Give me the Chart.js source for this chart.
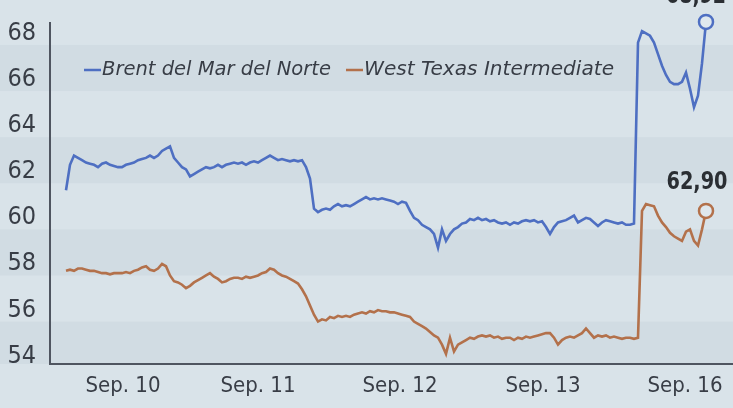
<!DOCTYPE html>
<html>
<head>
<meta charset="utf-8">
<script src="https://cdn.jsdelivr.net/npm/chart.js@4/dist/chart.umd.min.js"></script>
<style>
	html, body { margin: 0; padding: 0; background: #d8e2e8; }
	#wrap { width: 733px; height: 408px; position: relative; }
</style>
</head>
<body>
<div id="wrap"><canvas id="oilChart"></canvas></div>
<script>
// precios intradia, un punto cada ~4px de la grafica original
var brent = [
	61.2, 62.3, 62.7, 62.6, 62.5, 62.4, 62.35, 62.3, 62.2, 62.35,
	62.4, 62.3, 62.25, 62.2, 62.2, 62.3, 62.35, 62.4, 62.5, 62.55,
	62.6, 62.7, 62.6, 62.7, 62.9, 63.0, 63.1, 62.6, 62.4, 62.2,
	62.1, 61.8, 61.9, 62.0, 62.1, 62.2, 62.15, 62.2, 62.3, 62.2,
	62.3, 62.35, 62.4, 62.35, 62.4, 62.3, 62.4, 62.45, 62.4, 62.5,
	62.6, 62.7, 62.6, 62.5, 62.55, 62.5, 62.45, 62.5, 62.45, 62.5,
	62.2, 61.7, 60.4, 60.25, 60.35, 60.4, 60.35, 60.5, 60.6, 60.5,
	60.55, 60.5, 60.6, 60.7, 60.8, 60.9, 60.8, 60.85, 60.8, 60.85,
	60.8, 60.75, 60.7, 60.6, 60.7, 60.65, 60.3, 60.0, 59.9, 59.7,
	59.6, 59.5, 59.3, 58.7, 59.5, 59.0, 59.3, 59.5, 59.6, 59.75,
	59.8, 59.95, 59.9, 60.0, 59.9, 59.95, 59.85, 59.9, 59.8, 59.75,
	59.8, 59.7, 59.8, 59.75, 59.85, 59.9, 59.85, 59.9, 59.8, 59.85,
	59.6, 59.3, 59.6, 59.8, 59.85, 59.9, 60.0, 60.1, 59.8, 59.9,
	60.0, 59.95, 59.8, 59.65, 59.8, 59.9, 59.85, 59.8, 59.75, 59.8,
	59.7, 59.7, 59.75, 67.6, 68.1, 68.0, 67.9, 67.6, 67.1, 66.6,
	66.2, 65.9, 65.8, 65.8, 65.9, 66.3, 65.6, 64.8, 65.3, 66.7,
	68.5
];
var wti = [
	57.7, 57.75, 57.7, 57.8, 57.8, 57.75, 57.7, 57.7, 57.65, 57.6,
	57.6, 57.55, 57.6, 57.6, 57.6, 57.65, 57.6, 57.7, 57.75, 57.85,
	57.9, 57.75, 57.7, 57.8, 58.0, 57.9, 57.5, 57.25, 57.2, 57.1,
	56.95, 57.05, 57.2, 57.3, 57.4, 57.5, 57.6, 57.45, 57.35, 57.2,
	57.25, 57.35, 57.4, 57.4, 57.35, 57.45, 57.4, 57.45, 57.5, 57.6,
	57.65, 57.8, 57.75, 57.6, 57.5, 57.45, 57.35, 57.25, 57.15, 56.9,
	56.6, 56.2, 55.8, 55.5, 55.6, 55.55, 55.7, 55.65, 55.75, 55.7,
	55.75, 55.7, 55.8, 55.85, 55.9, 55.85, 55.95, 55.9, 56.0, 55.95,
	55.95, 55.9, 55.9, 55.85, 55.8, 55.75, 55.7, 55.5, 55.4, 55.3,
	55.2, 55.05, 54.9, 54.8, 54.5, 54.1, 54.8, 54.2, 54.5, 54.6,
	54.7, 54.8, 54.75, 54.85, 54.9, 54.85, 54.9, 54.8, 54.85, 54.75,
	54.8, 54.8, 54.7, 54.8, 54.75, 54.85, 54.8, 54.85, 54.9, 54.95,
	55.0, 55.0, 54.8, 54.5, 54.7, 54.8, 54.85, 54.8, 54.9, 55.0,
	55.2, 55.0, 54.8, 54.9, 54.85, 54.9, 54.8, 54.85, 54.8, 54.75,
	54.8, 54.8, 54.75, 54.8, 60.3, 60.6, 60.55, 60.5, 60.1, 59.8,
	59.6, 59.35, 59.2, 59.1, 59.0, 59.4, 59.5, 59.0, 58.8, 59.5,
	60.3
];
var seriesNames = ["Brent del Mar del Norte", "West Texas Intermediate"];
var endLabels = ["68,92", "62,90"];
var tickLabels = ["Sep. 10", "Sep. 11", "Sep. 12", "Sep. 13", "Sep. 16"];
var tickAt = [14.25, 48, 83.5, 119.25, 154.75];
var yTicks = [54, 56, 58, 60, 62, 64, 66, 68];

var color = {
	bg: "#d9e3e9",
	band: "#d1dce3",
	blue: "#4e6fc2",
	orange: "#b3714b",
	text: "#383d46",
	axis: "#4f5560"
};
var narrow = "'DejaVu Sans Condensed', 'Liberation Sans', sans-serif";

function toPoints(arr) {
	return arr.map(function (v, i) { return { x: i, y: v }; });
}
function lastOnly(arr, r) {
	return arr.map(function (v, i) { return i === arr.length - 1 ? r : 0; });
}

// texto ajustado a un ancho dado (la fuente del periodico es condensada)
function fitText(ctx, text, x, y, width, font, align) {
	ctx.save();
	ctx.font = font;
	var w = ctx.measureText(text).width;
	var s = width / w;
	var left = align === "center" ? x - width / 2 : x;
	ctx.translate(left, y);
	ctx.scale(s, 1);
	ctx.textAlign = "left";
	ctx.fillText(text, 0, 0);
	ctx.restore();
}

var backdrop = {
	id: "backdrop",
	beforeDraw: function (chart) {
		var ctx = chart.ctx;
		var y = chart.scales.y;
		ctx.save();
		ctx.fillStyle = color.bg;
		ctx.fillRect(0, 0, chart.width, chart.height);
		ctx.fillStyle = color.band;
		[[65.5, 67.5], [61.5, 63.5], [57.5, 59.5], [53.66, 55.5]].forEach(function (b) {
			var t = y.getPixelForValue(b[1]);
			var btm = y.getPixelForValue(b[0]);
			ctx.fillRect(0, t, chart.width, btm - t);
		});
		ctx.restore();
	}
};

var decor = {
	id: "decor",
	afterDraw: function (chart) {
		var ctx = chart.ctx;
		var a = chart.chartArea;
		var y = chart.scales.y;
		ctx.save();
		// ejes
		ctx.strokeStyle = color.axis;
		ctx.lineWidth = 2;
		ctx.beginPath();
		ctx.moveTo(a.left, y.getPixelForValue(68.5));
		ctx.lineTo(a.left, a.bottom);
		ctx.lineTo(a.right, a.bottom);
		ctx.stroke();

		// leyenda
		ctx.fillStyle = color.text;
		ctx.textBaseline = "middle";
		var legendFont = "italic 19px " + narrow;
		ctx.lineWidth = 2.5;
		ctx.strokeStyle = color.blue;
		ctx.beginPath(); ctx.moveTo(84, 70); ctx.lineTo(101, 70); ctx.stroke();
		fitText(ctx, seriesNames[0], 102, 70, 229, legendFont, "left");
		ctx.strokeStyle = color.orange;
		ctx.beginPath(); ctx.moveTo(346, 70); ctx.lineTo(363, 70); ctx.stroke();
		fitText(ctx, seriesNames[1], 364, 70, 250, legendFont, "left");

		// valores finales
		var labelFont = "bold 24px " + narrow;
		ctx.fillStyle = "#2a2e33";
		fitText(ctx, endLabels[0], 696, -3, 60, labelFont, "center");
		fitText(ctx, endLabels[1], 697, 183, 61, labelFont, "center");
		ctx.restore();
	}
};

var ctx = document.getElementById("oilChart").getContext("2d");
var oilChart = new Chart(ctx, {
	type: "line",
	data: {
		datasets: [
			{
				label: seriesNames[0],
				data: toPoints(brent),
				borderColor: color.blue,
				borderWidth: 2.6,
				pointRadius: lastOnly(brent, 7),
				pointBorderWidth: 2.5,
				pointBackgroundColor: "#dfe8ee",
				pointBorderColor: color.blue,
				tension: 0
			},
			{
				label: seriesNames[1],
				data: toPoints(wti),
				borderColor: color.orange,
				borderWidth: 2.6,
				pointRadius: lastOnly(wti, 7),
				pointBorderWidth: 2.5,
				pointBackgroundColor: "#dfe8ee",
				pointBorderColor: color.orange,
				tension: 0
			}
		]
	},
	options: {
		responsive: true,
		maintainAspectRatio: false,
		animation: false,
		devicePixelRatio: 1,
		layout: { padding: 0, autoPadding: false },
		plugins: {
			legend: { display: false },
			tooltip: { enabled: false }
		},
		scales: {
			x: {
				type: "linear",
				min: -4,
				max: 166.75,
				grid: { display: false, drawTicks: false },
				border: { display: false },
				afterFit: function (scale) {
					scale.height = 44;
					scale.paddingLeft = 0;
					scale.paddingRight = 0;
				},
				afterBuildTicks: function (scale) {
					scale.ticks = tickAt.map(function (v) { return { value: v }; });
				},
				ticks: {
					autoSkip: false,
					maxRotation: 0,
					padding: 9,
					color: color.text,
					font: { family: narrow, size: 22 },
					callback: function (value, index) { return tickLabels[index]; }
				}
			},
			y: {
				min: 53.66,
				max: 69.45,
				grid: { display: false, drawTicks: false },
				border: { display: false },
				afterFit: function (scale) {
					scale.width = 50;
					scale.paddingTop = 0;
					scale.paddingBottom = 0;
				},
				afterBuildTicks: function (scale) {
					scale.ticks = yTicks.map(function (v) { return { value: v }; });
				},
				ticks: {
					padding: 14,
					color: color.text,
					font: { family: narrow, size: 25 }
				}
			}
		}
	},
	plugins: [backdrop, decor]
});
</script>
</body>
</html>
